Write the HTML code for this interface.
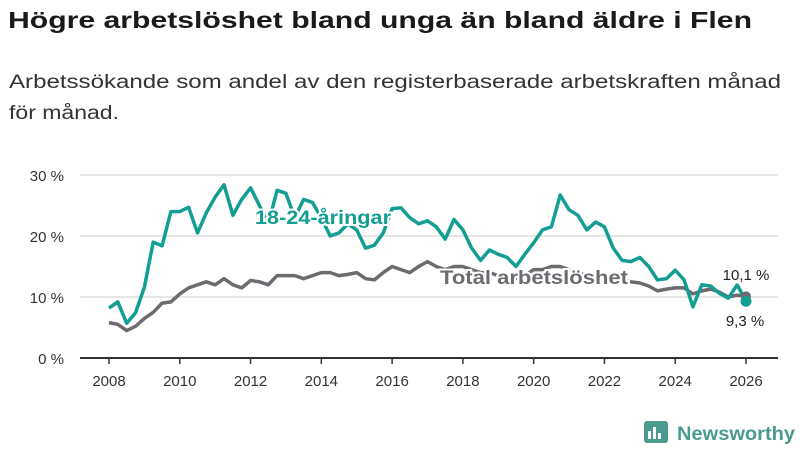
<!DOCTYPE html>
<html><head><meta charset="utf-8"><style>
body{margin:0;width:800px;height:450px;background:#fff;font-family:"Liberation Sans",sans-serif;overflow:hidden}
svg text{font-family:"Liberation Sans",sans-serif}
</style></head><body>
<svg width="800" height="450">
<text x="8" y="28" font-size="23" font-weight="bold" fill="#1a1a1a" textLength="744" lengthAdjust="spacingAndGlyphs">Högre arbetslöshet bland unga än bland äldre i Flen</text>
<text x="9" y="88" font-size="19" fill="#333" textLength="772" lengthAdjust="spacingAndGlyphs">Arbetssökande som andel av den registerbaserade arbetskraften månad</text>
<text x="9" y="119" font-size="19" fill="#333" textLength="110" lengthAdjust="spacingAndGlyphs">för månad.</text>
<g id="grid"></g><g id="lines"></g><g id="labels"></g>
<g>
<rect x="644" y="421" width="24" height="22" rx="3" fill="#4a9b8f"/>
<rect x="648" y="431" width="3" height="8" fill="#fff"/><rect x="653" y="427" width="3" height="12" fill="#fff"/><rect x="658" y="433" width="3" height="6" fill="#fff"/>
<text x="677" y="440" font-size="19" font-weight="bold" fill="#4a9b8f" textLength="118" lengthAdjust="spacingAndGlyphs">Newsworthy</text>
</g>
</svg>
<script>
const years=[2008,2010,2012,2014,2016,2018,2020,2022,2024,2026];
const yTicks=[0,10,20,30];
const startYear=2008, step=0.25;
const youth=[8.2,9.2,5.7,7.4,11.6,19,18.4,24,24,24.7,20.5,23.8,26.4,28.4,23.4,26,27.9,25,22,27.5,27,23,26,25.5,23,20,20.5,22,21,18,18.5,20.5,24.5,24.6,23,22,22.5,21.5,19.5,22.7,21,18,16,17.7,17,16.5,15,17,18.9,21,21.5,26.7,24.3,23.4,21,22.3,21.5,18,16,15.8,16.5,15,12.8,13,14.4,12.8,8.4,12,11.8,10.6,9.8,12,9.3];
const total=[5.8,5.5,4.5,5.2,6.5,7.5,9,9.2,10.5,11.5,12,12.5,12,13,12,11.5,12.7,12.5,12,13.5,13.5,13.5,13,13.5,14,14,13.5,13.7,14,13,12.8,14,15,14.5,14,15,15.8,15,14.5,15,15,14.5,14,14,13.5,13.5,13,13.5,14.5,14.5,15,15,14.5,14,13.5,13.5,13,13,12.8,12.5,12.3,11.8,11,11.3,11.5,11.5,10.5,11,11.3,10.8,10,10.3,10.1];
const NS="http://www.w3.org/2000/svg";
const X=y=>109+(y-2008)*(746-109)/18, Y=v=>358-v*6.1;
function mk(t,a,p){const e=document.createElementNS(NS,t);for(const k in a)e.setAttribute(k,a[k]);p.appendChild(e);return e;}
const g=document.getElementById('grid'),L=document.getElementById('lines'),lb=document.getElementById('labels');
yTicks.forEach(v=>{
 const l=mk('line',{x1:80,x2:778,y1:Y(v),y2:Y(v),stroke:v?'#ddd':'#333','stroke-width':v?1.5:2},g);
 
 
 const t=mk('text',{x:64,y:Y(v)+6,'text-anchor':'end','font-size':15,fill:'#333'},g);t.textContent=v+' %';
 
 
});
years.forEach(y=>{
 const l=mk('line',{x1:X(y),x2:X(y),y1:358,y2:364,stroke:'#333','stroke-width':1.5},g);
 
 
 const t=mk('text',{x:X(y),y:386,'text-anchor':'middle','font-size':15,fill:'#333'},g);t.textContent=y;
 
 
});
function pts(a){return a.map((v,i)=>X(startYear+i*step).toFixed(1)+','+Y(v).toFixed(1)).join(' ');}
const pt=mk('polyline',{points:pts(total),fill:'none',stroke:'#6d6a70','stroke-width':3.5,'stroke-linejoin':'round'},L);


const py=mk('polyline',{points:pts(youth),fill:'none',stroke:'#139e93','stroke-width':3.5,'stroke-linejoin':'round'},L);


const lastI=youth.length-1,lx=X(startYear+lastI*step);
const d1=mk('circle',{cx:lx,cy:Y(total[lastI]),r:5,fill:'#6d6a70'},L);


const d2=mk('circle',{cx:lx,cy:Y(youth[lastI]),r:5.5,fill:'#139e93'},L);


function lab(txt,x,y,sz,col,bold,name,len){const a={x:x,y:y,'font-size':sz,fill:col,'font-weight':bold?'bold':'normal',stroke:'#fff','stroke-width':4,'paint-order':'stroke','text-anchor':'middle'};if(len){a.textLength=len;a.lengthAdjust='spacingAndGlyphs';}const t=mk('text',a,lb);t.textContent=txt;
 
 }
lab('18-24-åringar',323,224,19,'#139e93',true,'youth-series-label',136);
lab('Total arbetslöshet',534,284,19,'#6d6a70',true,'total-series-label',188);
lab(String(total[lastI]).replace('.',',')+' %',746,280,15,'#222',false,'total-end-value');
lab(String(youth[lastI]).replace('.',',')+' %',745,326,15,'#222',false,'youth-end-value');
</script>
</body></html>
